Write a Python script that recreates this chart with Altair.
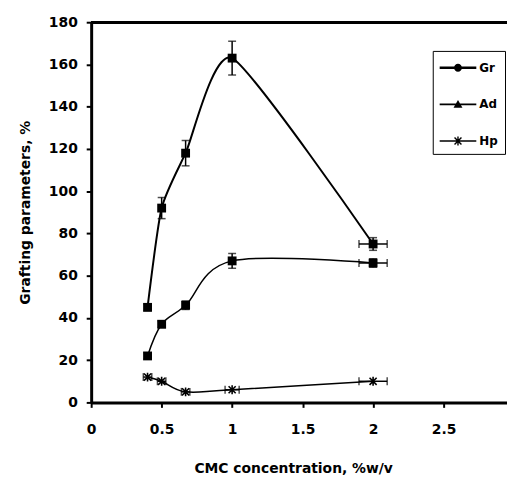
import altair as alt
import pandas as pd

# ---- data ----
conc = [0.4, 0.5, 0.67, 1.0, 2.0]
series = ["Gr", "Ad", "Hp"]
gr = [45, 92, 118, 163, 75]
ad = [22, 37, 46, 67, 66]
hp = [12, 10, 5, 6, 10]
gr_yerr = [1.5, 5, 6, 8, 3]
ad_yerr = [1.5, 1.5, 2, 3.5, 2]
hp_yerr = [0, 0, 0, 0, 0]
gr_xerr = [0, 0, 0, 0, 0.1]
ad_xerr = [0, 0, 0, 0, 0.1]
hp_xerr = [0.03, 0.03, 0.03, 0.05, 0.1]
x_ticks = [0, 0.5, 1, 1.5, 2, 2.5]
y_ticks = [0, 20, 40, 60, 80, 100, 120, 140, 160, 180]

rows = []
for name, ys, yerrs, xerrs in [("Gr", gr, gr_yerr, gr_xerr),
                               ("Ad", ad, ad_yerr, ad_xerr),
                               ("Hp", hp, hp_yerr, hp_xerr)]:
    for xv, yv, ye, xe in zip(conc, ys, yerrs, xerrs):
        rows.append({"series": name, "x": xv, "y": yv, "yerr": ye, "xerr": xe,
                     "ylo": yv - ye, "yhi": yv + ye, "xlo": xv - xe, "xhi": xv + xe})
df = pd.DataFrame(rows)

W, H = 420, 384
FONT = "DejaVu Sans"
XTITLE = "CMC concentration, %w/v"
YTITLE = "Grafting parameters, %"

xscale = alt.Scale(domain=[0, 2.95], nice=False)
yscale = alt.Scale(domain=[0, 180], nice=False)

xaxis = alt.Axis(values=x_ticks, format="~g", grid=False, labelFlush=False,
                 domainColor="black", domainWidth=3, tickColor="black", tickWidth=2,
                 tickSize=5, labelFont=FONT, labelFontWeight="bold", labelFontSize=14,
                 labelColor="black", labelPadding=15, titleFont=FONT,
                 titleFontWeight="bold", titleFontSize=14, titleColor="black",
                 titleX=204, titleY=71, titleBaseline="alphabetic")
yaxis = alt.Axis(values=y_ticks, grid=False, domainColor="black", domainWidth=3,
                 tickColor="black", tickWidth=2, tickSize=5, labelFont=FONT,
                 labelFontWeight="bold", labelFontSize=14, labelColor="black",
                 labelPadding=9, titleFont=FONT, titleFontWeight="bold",
                 titleFontSize=14, titleColor="black", titleX=-66, titleY=192,
                 titleBaseline="middle")


def X(field):
    return alt.X(f"{field}:Q", scale=xscale, axis=xaxis, title=XTITLE)


def Y(field):
    return alt.Y(f"{field}:Q", scale=yscale, axis=yaxis, title=YTITLE)


base = alt.Chart(df)

layers = []

# top frame line
layers.append(base.mark_rule(color="black", strokeWidth=2.5).encode(
    x=alt.value(0), x2=alt.value(W), y=alt.value(0)))

# smooth lines
for s, w, ten in zip(series, [2, 1.5, 1.5], [0.4, 0, 0]):
    layers.append(base.transform_filter(alt.datum.series == s)
                  .mark_line(interpolate="cardinal", tension=ten, color="black", strokeWidth=w)
                  .encode(x=X("x"), y=Y("y"), order=alt.Order("x:Q")))

# vertical error bars
yerr_base = base.transform_filter(alt.datum.yerr > 0)
layers.append(yerr_base.mark_rule(color="black", strokeWidth=1.5)
              .encode(x=X("x"), y=Y("ylo"), y2=alt.Y2("yhi:Q")))
layers.append(yerr_base.transform_fold(["ylo", "yhi"], as_=["k", "yc"])
              .mark_tick(orient="horizontal", size=8, thickness=1.5, color="black")
              .encode(x=X("x"), y=Y("yc")))

# horizontal error bars
xerr_base = base.transform_filter(alt.datum.xerr > 0)
layers.append(xerr_base.mark_rule(color="black", strokeWidth=1.5)
              .encode(x=X("xlo"), x2=alt.X2("xhi:Q"), y=Y("y")))
layers.append(xerr_base.transform_fold(["xlo", "xhi"], as_=["k", "xc"])
              .mark_tick(orient="vertical", size=8, thickness=1.5, color="black")
              .encode(x=X("xc"), y=Y("y")))

# markers
layers.append(base.transform_filter(alt.datum.series != "Hp")
              .mark_point(shape="square", filled=True, size=80, color="black", opacity=1)
              .encode(x=X("x"), y=Y("y")))
asterisk = "M-0.8,-0.8L0.8,0.8M-0.8,0.8L0.8,-0.8M0,-1V1"
layers.append(base.transform_filter(alt.datum.series == "Hp")
              .mark_point(shape=asterisk, filled=False, size=80, strokeWidth=1.6,
                          color="black", opacity=1)
              .encode(x=X("x"), y=Y("y")))

# legend (line + marker symbols)
legend_paths = [
    "M-1,-0.13H2.7V0.13H-1Z M0.45,0A0.4,0.4 0 1 1 1.25,0A0.4,0.4 0 1 1 0.45,0Z",
    "M-1,-0.08H2.7V0.08H-1Z M0.85,-0.45L1.3,0.35L0.4,0.35Z",
    "M-1,-0.08H2.7V0.08H-1Z M0.78,-0.45H0.92V0.45H0.78Z "
    "M0.45,-0.3L0.55,-0.4L1.25,0.3L1.15,0.4Z M0.45,0.3L1.15,-0.4L1.25,-0.3L0.55,0.4Z",
]
leg_df = pd.DataFrame({"series": series})
layers.append(alt.Chart(leg_df).mark_point(filled=True, clip=True, color="black", opacity=1)
              .encode(x=alt.datum(1, scale=xscale),
                      y=alt.datum(-60, scale=yscale),
                      shape=alt.Shape("series:N",
                                      scale=alt.Scale(domain=series, range=legend_paths),
                                      legend=alt.Legend(
                                          title=None, orient="none", legendX=345, legendY=29,
                                          strokeColor="black", padding=7, symbolSize=400,
                                          labelOffset=20, labelFont=FONT,
                                          labelFontWeight="bold", labelFontSize=12,
                                          labelColor="black", rowPadding=21,
                                          symbolFillColor="black", symbolStrokeWidth=0,
                                          symbolOpacity=1))))

chart = alt.layer(*layers).properties(
    width=W, height=H,
    autosize=alt.AutoSizeParams(type="none"),
    padding={"left": 84, "top": 12, "right": 0, "bottom": 74},
).configure_view(stroke=None).configure(background="white")

chart.save("out.html", embed_options={"renderer": "svg", "actions": False})
